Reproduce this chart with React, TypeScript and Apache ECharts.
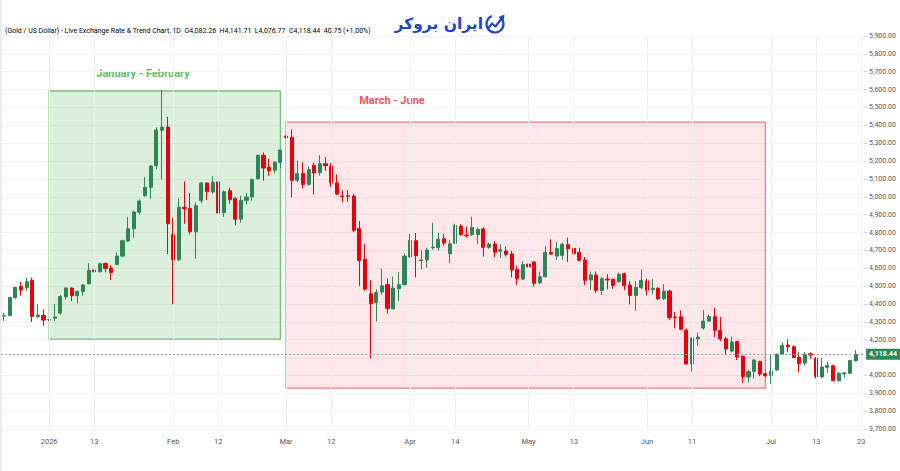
import React, { useEffect, useRef } from "react";
import * as echarts from "echarts";

// ---- data ----
const opens = [
  4332, 4336, 4435, 4498, 4491, 4532, 4330, 4336, 4310, 4321,
  4349, 4440, 4489, 4446, 4470, 4513, 4590, 4580, 4627, 4601,
  4622, 4668, 4752, 4821, 4913, 5006, 5053, 5174, 5372, 5390,
  4788, 4648, 4941, 4935, 4804, 4978, 5077, 5027, 5083, 4911,
  5034, 4991, 4875, 4980, 4999, 5101, 5232, 5165, 5148, 5193,
  5340, 5333, 5092, 5131, 5069, 5176, 5135, 5185, 5172, 5077,
  5004, 5005, 5004, 4823, 4650, 4457, 4407, 4467, 4508, 4372,
  4485, 4508, 4663, 4754, 4642, 4646, 4715, 4715, 4765, 4681,
  4739, 4836, 4786, 4788, 4788, 4820, 4717, 4735, 4696, 4696,
  4680, 4594, 4539, 4623, 4635, 4519, 4552, 4689, 4668, 4672,
  4732, 4711, 4689, 4646, 4534, 4562, 4476, 4539, 4537, 4524,
  4569, 4506, 4448, 4491, 4528, 4480, 4487, 4429, 4472, 4327,
  4328, 4254, 4064, 4205, 4265, 4304, 4329, 4252, 4205, 4136,
  4190, 4107, 3991, 4023, 4078, 4009, 4000, 4030, 4118, 4170,
  4161, 4101, 4069, 4121, 4095, 3993, 4045, 4054, 3970, 4008,
  4012, 4082.26,
];
const closes = [
  4334, 4437, 4493, 4478, 4524, 4330, 4338, 4310, 4312, 4327,
  4442, 4489, 4446, 4470, 4506, 4588, 4580, 4625, 4599, 4575,
  4668, 4754, 4821, 4915, 4976, 5053, 5172, 5374, 5390, 4849,
  4648, 4941, 4933, 4804, 4950, 5077, 5028, 5081, 4909, 5028,
  4985, 4874, 4980, 4999, 5096, 5232, 5161, 5146, 5193, 5262,
  5331, 5092, 5129, 5069, 5152, 5133, 5185, 5174, 5077, 5015,
  5000, 5003, 4812, 4642, 4483, 4401, 4465, 4502, 4375, 4489,
  4508, 4668, 4756, 4670, 4646, 4702, 4719, 4762, 4741, 4737,
  4840, 4788, 4782, 4829, 4818, 4717, 4735, 4689, 4704, 4678,
  4590, 4541, 4620, 4608, 4515, 4552, 4689, 4679, 4711, 4734,
  4709, 4681, 4644, 4532, 4562, 4476, 4541, 4534, 4504, 4566,
  4502, 4448, 4493, 4532, 4478, 4487, 4429, 4472, 4323, 4323,
  4258, 4064, 4209, 4215, 4304, 4329, 4252, 4204, 4148, 4187,
  4103, 3993, 4021, 4086, 4008, 3998, 4024, 4118, 4168, 4161,
  4099, 4067, 4118, 4114, 3993, 4047, 4056, 3970, 4011, 4014,
  4083, 4118.44,
];
const lows = [
  4306, 4334, 4429, 4446, 4474, 4299, 4319, 4276, 4304, 4304,
  4340, 4424, 4416, 4403, 4446, 4510, 4566, 4577, 4577, 4534,
  4616, 4661, 4748, 4771, 4900, 5000, 4989, 5155, 5096, 4679,
  4398, 4640, 4849, 4788, 4653, 4963, 4982, 5017, 4877, 4887,
  4961, 4840, 4855, 4957, 4978, 5097, 5090, 5118, 5131, 5159,
  5327, 4997, 5081, 5047, 5062, 5012, 5118, 5144, 5055, 5010,
  4969, 4971, 4803, 4500, 4474, 4095, 4301, 4452, 4345, 4372,
  4416, 4504, 4659, 4549, 4594, 4603, 4702, 4698, 4726, 4629,
  4735, 4782, 4771, 4782, 4735, 4665, 4709, 4661, 4657, 4665,
  4549, 4506, 4534, 4569, 4495, 4511, 4549, 4674, 4646, 4648,
  4635, 4666, 4638, 4506, 4478, 4459, 4450, 4482, 4485, 4519,
  4478, 4398, 4362, 4485, 4448, 4454, 4422, 4422, 4310, 4265,
  4254, 4062, 4021, 4166, 4256, 4301, 4215, 4192, 4114, 4129,
  4086, 3957, 3961, 3983, 3996, 3991, 3953, 4026, 4114, 4129,
  4097, 4017, 4054, 4093, 3983, 3985, 4015, 3968, 3966, 3987,
  4008, 4076.77,
];
const highs = [
  4351, 4439, 4496, 4523, 4547, 4547, 4399, 4370, 4316, 4399,
  4450, 4493, 4493, 4476, 4511, 4629, 4631, 4631, 4631, 4618,
  4689, 4760, 4886, 4922, 4985, 5109, 5178, 5389, 5598, 5448,
  4883, 4991, 5086, 5021, 4969, 5083, 5081, 5116, 5097, 5036,
  5051, 4997, 5006, 5021, 5103, 5237, 5249, 5213, 5198, 5265,
  5344, 5377, 5202, 5193, 5170, 5191, 5234, 5222, 5189, 5125,
  5036, 5038, 5015, 4864, 4735, 4534, 4482, 4597, 4543, 4553,
  4579, 4683, 4793, 4797, 4702, 4715, 4855, 4799, 4793, 4756,
  4849, 4846, 4833, 4888, 4827, 4829, 4743, 4752, 4734, 4722,
  4696, 4612, 4640, 4657, 4640, 4582, 4724, 4762, 4747, 4743,
  4771, 4726, 4715, 4663, 4582, 4582, 4552, 4567, 4543, 4575,
  4575, 4528, 4528, 4594, 4541, 4539, 4495, 4511, 4480, 4355,
  4364, 4263, 4213, 4239, 4366, 4340, 4379, 4327, 4217, 4217,
  4194, 4110, 4032, 4092, 4082, 4017, 4114, 4123, 4183, 4202,
  4168, 4129, 4131, 4129, 4103, 4097, 4077, 4060, 4019, 4019,
  4087, 4141.71,
];

// trading days shown on the axis
const firstDay = "2025-12-22";
const lastDay = "2026-07-23";
const holidays = ["2026-04-03"];

const dateLabels: Record<string, string> = {
  "2026-01-01": "2026",
  "2026-01-13": "13",
  "2026-02-02": "Feb",
  "2026-02-12": "12",
  "2026-03-02": "Mar",
  "2026-03-12": "12",
  "2026-04-01": "Apr",
  "2026-04-14": "14",
  "2026-05-01": "May",
  "2026-05-13": "13",
  "2026-06-01": "Jun",
  "2026-06-11": "11",
  "2026-07-01": "Jul",
  "2026-07-13": "13",
  "2026-07-23": "23",
};

const zoneJanFeb = { label: "January - February", from: "2026-01-01", to: "2026-02-27", top: 5592, bottom: 4203 };
const zoneMarJun = { label: "March - June", from: "2026-03-02", to: "2026-06-30", top: 5418, bottom: 3929 };

const lastPrice = 4118.44;
const hiddenTick = 4100; // covered by the last-price tag in the reference
const headerTitle = "(Gold / US Dollar) - Live Exchange Rate & Trend Chart, 1D";
const headerStats = [
  ["O", "4,082.26"],
  ["H", "4,141.71"],
  ["L", "4,076.77"],
  ["C", "4,118.44"],
];
const headerChange = "40.75 (+1.00%)";
const brandName = "ایران بروکر";

function buildDates(): string[] {
  const out: string[] = [];
  const [y0, m0, d0] = firstDay.split("-").map(Number);
  const [y1, m1, d1] = lastDay.split("-").map(Number);
  const d = new Date(Date.UTC(y0, m0 - 1, d0));
  const end = Date.UTC(y1, m1 - 1, d1);
  while (d.getTime() <= end) {
    const wd = d.getUTCDay();
    const s = d.toISOString().slice(0, 10);
    if (wd !== 0 && wd !== 6 && !holidays.includes(s)) out.push(s);
    d.setUTCDate(d.getUTCDate() + 1);
  }
  return out;
}

const UP = "#2e8555";
const DOWN = "#e8000b";
const FONT = "Roboto, 'Noto Sans', sans-serif";

export default function App() {
  const ref = useRef<HTMLDivElement>(null);

  useEffect(() => {
    document.body.style.margin = "0";
    if (!ref.current) return;
    const chart = echarts.init(ref.current, undefined, { renderer: "svg" });
    const dates = buildDates();
    const candles = opens.map((o, i) => [o, closes[i], lows[i], highs[i]]);
    const labelled = new Set(Object.keys(dateLabels));
    const fmt = (v: number) =>
      v.toLocaleString("en-US", { minimumFractionDigits: 2, maximumFractionDigits: 2 });

    const plotW = 862.9;
    const headerRich: any = {
      t: { color: "#555", fontSize: 7, fontFamily: FONT },
      k: { color: "#555", fontSize: 7, fontFamily: FONT },
      v: { color: UP, fontSize: 7, fontFamily: FONT },
    };
    const headerText =
      `{t|${headerTitle}}  ` +
      headerStats.map(([k, v]) => `{k|${k}}{v|${v}}`).join("  ") +
      `  {v|${headerChange}}`;

    const option: any = {
      animation: false,
      backgroundColor: "#ffffff",
      grid: { left: 1.2, top: 36, width: plotW, height: 393 },
      xAxis: {
        type: "category",
        data: dates,
        boundaryGap: true,
        axisLine: { show: false },
        axisTick: { show: false },
        splitLine: { show: false },
        axisLabel: {
          interval: (_i: number, v: string) => labelled.has(v),
          formatter: (v: string) => dateLabels[v] ?? "",
          color: "#555",
          fontSize: 7.5,
          fontFamily: FONT,
          margin: 8,
        },
      },
      yAxis: {
        type: "value",
        position: "right",
        min: 3700,
        max: 5900,
        interval: 100,
        scale: true,
        axisLine: { show: false },
        axisTick: { show: true, length: 3, lineStyle: { color: "#cfd2d8" } },
        axisLabel: {
          color: "#555",
          fontSize: 7,
          fontFamily: FONT,
          margin: 5,
          formatter: (v: number) => (v === hiddenTick ? "" : fmt(v)),
        },
        splitLine: { lineStyle: { color: "#f0f2f6", width: 1 } },
      },
      series: [
        {
          type: "line",
          data: [],
          z: 1,
          silent: true,
          markArea: {
            silent: true,
            data: [
              [
                {
                  xAxis: zoneJanFeb.from,
                  yAxis: zoneJanFeb.top,
                  itemStyle: { color: "rgba(76,175,80,0.2)", borderColor: "#77c07b", borderWidth: 1.3 },
                },
                { xAxis: zoneJanFeb.to, yAxis: zoneJanFeb.bottom },
              ],
              [
                {
                  xAxis: zoneMarJun.from,
                  yAxis: zoneMarJun.top,
                  itemStyle: { color: "rgba(242,54,69,0.12)", borderColor: "#f07a84", borderWidth: 1.3 },
                },
                { xAxis: zoneMarJun.to, yAxis: zoneMarJun.bottom },
              ],
            ],
          },
          markLine: {
            silent: true,
            symbol: "none",
            label: { show: false },
            lineStyle: { color: "#eceff4", type: "solid", width: 1 },
            data: Object.keys(dateLabels).map((d) => ({ xAxis: d })),
          },
        },
        {
          type: "candlestick",
          z: 3,
          data: candles,
          barWidth: 3.6,
          itemStyle: {
            color: UP,
            color0: DOWN,
            borderColor: UP,
            borderColor0: DOWN,
            borderWidth: 1,
          },
          markLine: {
            silent: true,
            symbol: "none",
            data: [{ yAxis: lastPrice }],
            lineStyle: { color: "#8ea597", type: [2, 2], width: 1 },
            label: {
              show: true,
              position: "end",
              distance: 2,
              formatter: () => fmt(lastPrice),
              backgroundColor: UP,
              color: "#fff",
              fontSize: 7,
              fontWeight: "bold",
              fontFamily: FONT,
              padding: [2, 3, 2, 3],
            },
          },
        },
      ],
      graphic: [
        { type: "line", shape: { x1: 1, y1: 0, x2: 1, y2: 471 }, style: { stroke: "#e3e6ec", lineWidth: 1.5 } },
        {
          type: "text",
          left: 5,
          top: 27,
          style: { text: headerText, rich: headerRich, fontSize: 7, fontFamily: FONT },
        },
        {
          type: "text",
          x: 483,
          y: 24,
          style: {
            text: brandName,
            fill: "#2145c6",
            fontSize: 15.5,
            fontWeight: "bold",
            fontFamily: "'DejaVu Sans', 'Noto Sans', sans-serif",
            align: "right",
            verticalAlign: "middle",
          },
        },
        {
          type: "arc",
          shape: { cx: 495, cy: 24, r: 8.5, startAngle: -Math.PI * 0.3, endAngle: -Math.PI * 0.62, clockwise: true },
          style: { stroke: "#2145c6", lineWidth: 2.2, fill: null },
        },
        {
          type: "polyline",
          shape: { points: [[488.5, 28], [492, 23.5], [495.5, 26.5], [502, 18]] },
          style: { stroke: "#2145c6", lineWidth: 2.2, fill: null, lineJoin: "round", lineCap: "round" },
        },
        {
          type: "polygon",
          shape: { points: [[504.5, 14.5], [503.5, 21], [498.5, 17]] },
          style: { fill: "#2145c6" },
        },
        {
          type: "text",
          x: 143,
          y: 73,
          style: {
            text: zoneJanFeb.label,
            fill: "#66b96a",
            fontSize: 11,
            fontWeight: "bold",
            fontFamily: FONT,
            align: "center",
            verticalAlign: "middle",
          },
        },
        {
          type: "text",
          x: 392,
          y: 100,
          style: {
            text: zoneMarJun.label,
            fill: "#f05661",
            fontSize: 11,
            fontWeight: "bold",
            fontFamily: FONT,
            align: "center",
            verticalAlign: "middle",
          },
        },
      ],
    };
    chart.setOption(option);
    return () => chart.dispose();
  }, []);

  return <div ref={ref} style={{ width: 900, height: 471 }} />;
}
